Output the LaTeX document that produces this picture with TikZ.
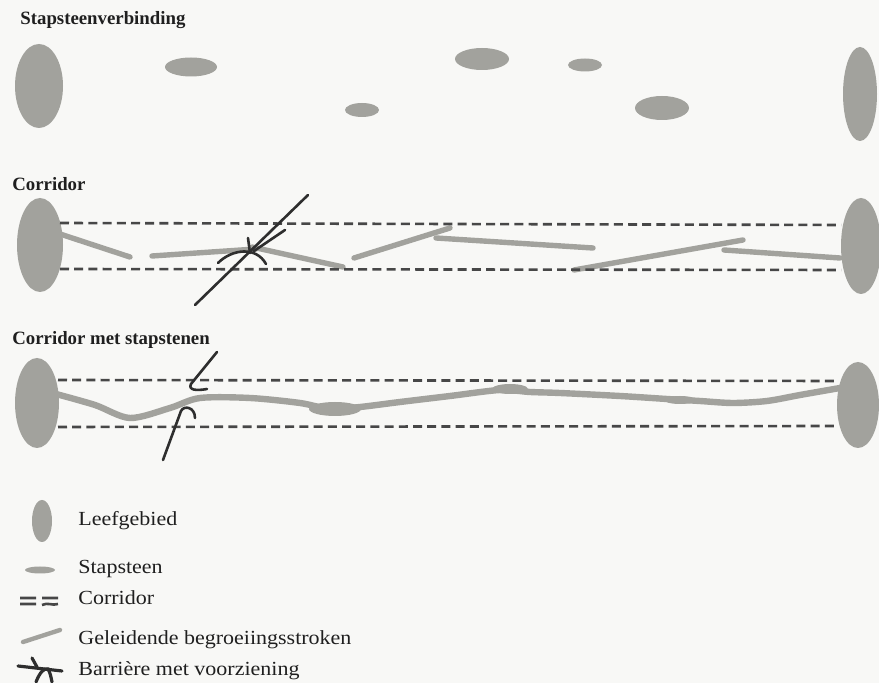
\documentclass[tikz,border=0pt]{standalone}
\usepackage{fontspec}
\setmainfont{Liberation Serif}
\newfontfamily\legfont[FakeStretch=1.1]{Liberation Serif}
\usetikzlibrary{shapes.geometric}
\definecolor{cHab}{HTML}{A2A29D}
\definecolor{cDash}{HTML}{474747}
\definecolor{cBar}{HTML}{2E2E2E}
\definecolor{cPaper}{HTML}{F8F8F6}
\tikzset{
  leef/.style  ={ellipse, fill=cHab, inner sep=0pt},
  steen/.style ={ellipse, fill=cHab, inner sep=0pt},
  corr/.style  ={draw=cDash, line width=1.3pt, dash pattern=on 4.5pt off 2.6pt},
  strook/.style={draw=cHab, line width=2.7pt, line cap=round, line join=round},
  barr/.style  ={draw=cBar, line width=1.3pt, line cap=round},
  ttl/.style   ={font=\fontsize{9.4}{11}\selectfont\bfseries, text=black!88,
                 anchor=base west, inner sep=0pt},
  lg/.style    ={font=\legfont\fontsize{10}{12}\selectfont, text=black!88,
                 anchor=base west, inner sep=0pt},
}

\begin{document}
\begin{tikzpicture}[x=0.5pt,y=-0.5pt]

  \fill[cPaper] (0,0) rectangle (879,683);
  \useasboundingbox (0,0) rectangle (879,683);

  % ---- stapsteenverbinding ----
  \node[ttl] (t1) at (20,25) {Stapsteenverbinding};
  \node[leef, minimum width=24pt, minimum height=42pt] (lgA1) at (39,86) {};
  \node[leef, minimum width=17pt, minimum height=47pt] (lgB1) at (860,94) {};
  \node[steen, minimum width=26pt, minimum height=9.5pt] (st1) at (191,67) {};
  \node[steen, minimum width=27pt, minimum height=11pt] (st2) at (482,59) {};
  \node[steen, minimum width=17pt, minimum height=6.5pt] (st3) at (585,65) {};
  \node[steen, minimum width=17pt, minimum height=7pt] (st4) at (362,110) {};
  \node[steen, minimum width=27pt, minimum height=12pt] (st5) at (662,108) {};

  % ---- corridor ----
  \node[ttl] (t2) at (12,191) {Corridor};
  \node[leef, minimum width=23pt, minimum height=47pt] (lgA2) at (40,245) {};
  \node[leef, minimum width=20pt, minimum height=48pt] (lgB2) at (861,246) {};
  \draw[strook] (60,234) -- (130,257);
  \draw[strook] (152,256) -- (256,249);
  \draw[strook] (252,247) -- (343,267);
  \draw[strook] (354,258) -- (450,228);
  \draw[strook] (436,238) -- (593,248);
  \draw[strook] (574,270) -- (743,240);
  \draw[strook] (724,250) -- (840,258);
  \draw[corr] (60,223) -- (841,225);
  \draw[corr] (60,269) -- (841,270);
  % barriere
  \draw[barr] (195,305) -- (308,195);
  \draw[barr] (285,230) -- (254,251);
  \draw[barr] (248,238) -- (250,253);
  \draw[barr] (218,263) .. controls (232,249) and (256,246) .. (266,264);

  % ---- corridor met stapstenen ----
  \node[ttl] (t3) at (12,345) {Corridor met stapstenen};
  \node[leef, minimum width=22pt, minimum height=45pt] (lgA3) at (37,403) {};
  \node[leef, minimum width=21pt, minimum height=43pt] (lgB3) at (858,405) {};
  \draw[strook, line width=3.2pt] plot[smooth] coordinates {(56,394) (95,405)
    (130,418) (170,408) (200,398) (250,398) (300,403) (330,409) (360,407)
    (400,402) (450,396) (500,390) (530,392) (560,393) (620,396) (667,399)
    (700,401) (733,403) (767,401) (800,395) (840,388)};
  \node[steen, minimum width=26pt, minimum height=7pt] (bl1) at (335,409) {};
  \node[steen, minimum width=18pt, minimum height=5pt] (bl2) at (510,389) {};
  \node[steen, minimum width=16pt, minimum height=4pt] (bl3) at (680,400) {};
  \draw[corr] (58,380) -- (838,381);
  \draw[corr] (58,427) -- (838,426);
  % barriere met voorziening
  \draw[barr] (217,352) -- (191,384) .. controls (188,390) and (196,391) .. (207,389);
  \draw[barr] (163,460) -- (181,411) .. controls (184,405) and (195,407) .. (195,418);

  % ---- legenda ----
  \node[leef, minimum width=10pt, minimum height=21pt] (kLeef) at (42,521) {};
  \node[lg] (tLeef) at (78,526) {Leefgebied};
  \node[steen, minimum width=15pt, minimum height=3.5pt] (kSteen) at (40,570) {};
  \node[lg] (tSteen) at (78,574) {Stapsteen};
  \draw[cDash, line width=1.3pt] (20,598) -- (36,598) (42,598) -- (58,598)
    (20,604) -- (36,604) (42,605) .. controls (48,602) and (52,606) .. (58,604);
  \node[lg] (tCorr) at (78,605) {Corridor};
  \draw[strook, line width=2.2pt] (23,642) -- (60,630);
  \node[lg] (tStrook) at (78,645) {Geleidende begroeiingsstroken};
  \draw[barr, line width=1.6pt] (18,666) -- (62,671);
  \draw[barr, line width=1.6pt] (32,658) -- (37,667);
  \draw[barr, line width=1.6pt] (36,682) .. controls (40,672) and (44,668) .. (48,669)
    .. controls (50,672) and (51,677) .. (52,682);
  \node[lg] (tBarr) at (78,676) {Barrière met voorziening};

\end{tikzpicture}
\end{document}
